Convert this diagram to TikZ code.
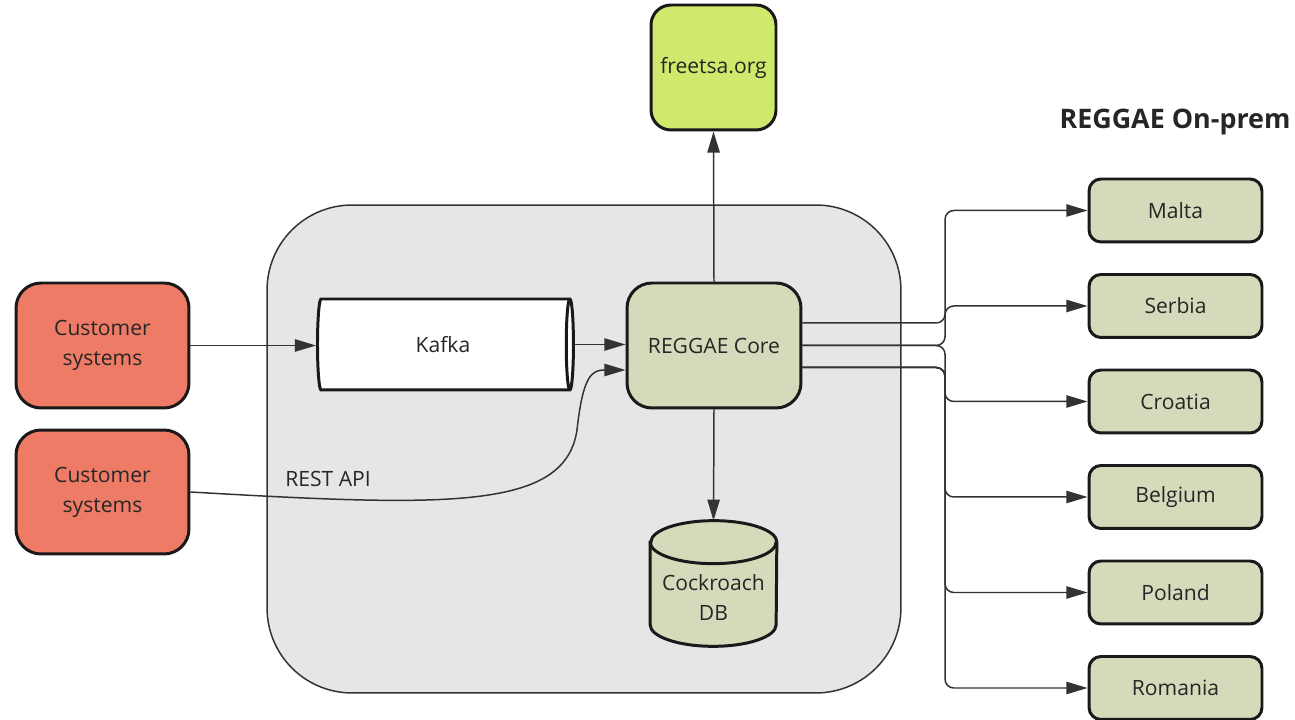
\documentclass[tikz,border=0pt]{standalone}
\usepackage{fontspec}
\setmainfont{Open Sans}
\usepackage{xcolor}
\usepackage{tikz}
\usetikzlibrary{shapes.geometric, arrows.meta, calc}

\definecolor{custred}{HTML}{EE7B66}
\definecolor{tsagreen}{HTML}{CEE96B}
\definecolor{coreolive}{HTML}{D6D9BA}
\definecolor{zonegray}{HTML}{E6E6E6}
\definecolor{wiregray}{HTML}{333333}

\begin{document}
\begin{tikzpicture}[x=0.02cm, y=0.02cm,
    every node/.style={font=\fontsize{12}{17}\selectfont, text=black!85},
    box/.style={draw=black!90, line width=1.7pt, rounded corners=0.5cm, align=center, inner sep=0pt},
    site/.style={box, fill=coreolive, minimum width=3.46cm, minimum height=1.26cm, rounded corners=0.24cm},
    drum/.style={cylinder, draw=black!90, line width=1.7pt, align=center, inner sep=0pt},
    rim/.style={x radius=1.26cm, y radius=0.43cm},
    link/.style={draw=wiregray, line width=0.85pt, -{Triangle[length=12pt, width=7pt]}}]
    \useasboundingbox (0,0) rectangle (1295,720);
    \node[draw=wiregray, fill=zonegray, line width=0.85pt, rounded corners=1.7cm,
        minimum width=12.68cm, minimum height=9.76cm] (zone) at (584,271) {};

    \node[box, fill=tsagreen, minimum width=2.5cm, minimum height=2.5cm, rounded corners=0.4cm] (tsa) at (713.5,652.5) {freetsa.org};
    \node[box, fill=custred, minimum width=3.46cm, minimum height=2.5cm] (cust1) at (102.5,374.5) {Customer\\systems};
    \node[box, fill=custred, minimum width=3.46cm, minimum height=2.48cm] (cust2) at (102.5,228) {Customer\\systems};
    \node[drum, fill=white, minimum width=1.82cm, minimum height=5.12cm, aspect=0.44, anchor=west] (kafka) at (316,375.5) {Kafka};
    \node[box, fill=coreolive, minimum width=3.48cm, minimum height=2.5cm] (core) at (714,374.5) {REGGAE Core};

    % Cockroach DB drum
    \node[minimum width=2.52cm, minimum height=2.5cm, inner sep=0pt] (db) at (713.5,136.5) {};
    \path[draw=black!90, fill=coreolive, line width=1.7pt]
        ($(db.north west)+(0,-21.5)$) -- ($(db.south west)+(0,21.5)$) arc[start angle=180, end angle=360, rim]
        -- ($(db.north east)+(0,-21.5)$) arc[start angle=0, end angle=180, rim] -- cycle;
    \draw[black!90, line width=1.7pt] ($(db.north west)+(0,-21.5)$) arc[start angle=180, end angle=360, rim];
    \node[align=center] (dbtext) at ($(db.center)+(0,-14)$) {Cockroach\\DB};

    \node[font=\fontsize{15.3}{18}\selectfont\bfseries] (title) at (1175,598) {REGGAE On-prem};
    \foreach \name [count=\i] in {Malta, Serbia, Croatia, Belgium, Poland, Romania}
        \node[site] (site\i) at (1175.5,{509.5-95.5*(\i-1)}) {\name};

    \draw[link] (cust1.east) -- (cust1.east -| kafka.west);
    \draw[link] (kafka.east) -- (kafka.east -| core.west);
    \coordinate (restin) at ($(core.west)+(0,-24.5)$);
    \draw[link] (cust2.east) .. controls (450,213) and (565,210) .. (577,290)
        .. controls (583,345) and (592,350) .. (restin);
    \node (rest) at (328,241) {REST API};
    \draw[link] (core.north) -- (tsa.south);
    \draw[link] (core.south) -- (db.north);

    \coordinate (bus) at (945,0);
    \coordinate (out1) at ($(core.east)+(0,22.5)$);
    \coordinate (out2) at (core.east);
    \coordinate (out3) at ($(core.east)+(0,-22)$);
    \draw[link, rounded corners=5pt] (out1) -- (out1 -| bus) |- (site1.west);
    \draw[link, rounded corners=5pt] (out2) -- (out2 -| bus) |- (site2.west);
    \draw[link, rounded corners=5pt] (out2) -- (out2 -| bus) |- (site3.west);
    \foreach \i in {4,5,6}
        \draw[link, rounded corners=5pt] (out3) -- (out3 -| bus) |- (site\i.west);
\end{tikzpicture}
\end{document}
